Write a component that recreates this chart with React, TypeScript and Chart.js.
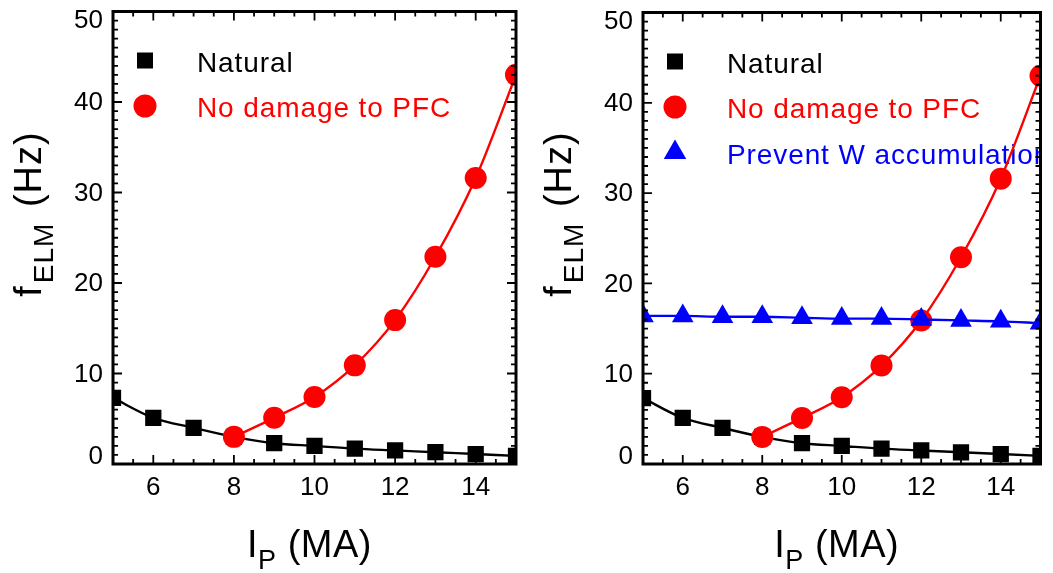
import React, { useEffect, useRef } from 'react';
import { Chart, registerables } from 'chart.js';

Chart.register(...registerables);

const FONT = '"Liberation Sans", Arial, Helvetica, sans-serif';

// ---- data ----
const currents = [5, 6, 7, 8, 9, 10, 11, 12, 13, 14, 15];
const naturalFreq = [7.3, 5.1, 4.0, 3.0, 2.3, 2.0, 1.7, 1.5, 1.3, 1.1, 0.9];
const noDamageCurrents = [8, 9, 10, 11, 12, 13, 14, 15];
const noDamageFreq = [3.0, 5.1, 7.4, 10.9, 15.9, 22.9, 31.6, 43.0];
const preventWFreq = [16.4, 16.4, 16.3, 16.3, 16.2, 16.1, 16.1, 16.0, 15.9, 15.8, 15.6];

const xTickValues = [6, 8, 10, 12, 14];
const yTickValues = [0, 10, 20, 30, 40, 50];
const xRange = [5, 15];
const yRange = [0, 50];

const legendNatural = 'Natural';
const legendNoDamage = 'No damage to PFC';
const legendPreventW = 'Prevent W accumulation';

type Series = {
  label: string;
  color: string;
  style: 'rect' | 'circle' | 'triangle';
  radius: number;
  xs: number[];
  ys: number[];
  order: number;
};

const naturalSeries: Series = { label: legendNatural, color: '#000000', style: 'rect', radius: 11.5, xs: currents, ys: naturalFreq, order: 3 };
const noDamageSeries: Series = { label: legendNoDamage, color: '#ff0000', style: 'circle', radius: 11, xs: noDamageCurrents, ys: noDamageFreq, order: 2 };
const preventWSeries: Series = { label: legendPreventW, color: '#0000ff', style: 'triangle', radius: 12.5, xs: currents, ys: preventWFreq, order: 1 };

function drawMarker(ctx: CanvasRenderingContext2D, style: string, x: number, y: number, color: string) {
  ctx.fillStyle = color;
  ctx.beginPath();
  if (style === 'rect') {
    ctx.rect(x - 8, y - 8, 16, 16);
  } else if (style === 'circle') {
    ctx.arc(x, y, 11.5, 0, Math.PI * 2);
  } else {
    const r = 13;
    ctx.moveTo(x, y - r);
    ctx.lineTo(x + r * Math.sin((2 * Math.PI) / 3), y - r * Math.cos((2 * Math.PI) / 3));
    ctx.lineTo(x + r * Math.sin((4 * Math.PI) / 3), y - r * Math.cos((4 * Math.PI) / 3));
    ctx.closePath();
  }
  ctx.fill();
}

const framePlugin = {
  id: 'frame',
  afterDatasetsDraw(chart: any) {
    const { ctx, chartArea, scales } = chart;
    const { left, right, top, bottom } = chartArea;
    const xs = scales.x;
    const ys = scales.y;
    ctx.save();
    ctx.strokeStyle = '#000';
    ctx.lineWidth = 1.8;
    ctx.beginPath();
    for (let v = xRange[0]; v <= xRange[1] + 1e-6; v += 0.5) {
      const px = xs.getPixelForValue(v);
      const len = xTickValues.includes(v) ? 9 : 5;
      ctx.moveTo(px, bottom);
      ctx.lineTo(px, bottom - len);
      ctx.moveTo(px, top);
      ctx.lineTo(px, top + len);
    }
    for (let v = yRange[0]; v <= yRange[1] + 1e-6; v += 1) {
      const py = ys.getPixelForValue(v);
      const len = yTickValues.includes(v) ? 9 : 5;
      ctx.moveTo(left, py);
      ctx.lineTo(left + len, py);
      ctx.moveTo(right, py);
      ctx.lineTo(right - len, py);
    }
    ctx.stroke();
    ctx.lineWidth = 3;
    ctx.strokeRect(left, top, right - left, bottom - top);

    // y tick labels (end labels nudged inside the frame, as in the reference)
    ctx.fillStyle = '#000';
    ctx.font = `26px ${FONT}`;
    ctx.textAlign = 'right';
    ctx.textBaseline = 'middle';
    ys.ticks.forEach((t: any) => {
      const py = ys.getPixelForValue(t.value);
      const yy = Math.min(Math.max(py, top + 8), bottom - 8);
      ctx.fillText(String(t.value), left - 10, yy + 1);
    });
    ctx.restore();
  },
};

const legendPlugin = {
  id: 'customLegend',
  beforeDatasetsDraw(chart: any) {
    const { ctx, chartArea } = chart;
    const entries: Series[] = chart.options.plugins.customLegend.entries;
    ctx.save();
    ctx.beginPath();
    ctx.rect(chartArea.left, chartArea.top, chartArea.right - chartArea.left - 1, chartArea.bottom - chartArea.top);
    ctx.clip();
    entries.forEach((s, i) => {
      const my = chartArea.top + 49 + i * 45.5;
      drawMarker(ctx, s.style, chartArea.left + 32, my, s.color);
      ctx.fillStyle = s.color;
      ctx.font = `28px ${FONT}`;
      (ctx as any).letterSpacing = '0.9px';
      ctx.textAlign = 'left';
      ctx.textBaseline = 'alphabetic';
      ctx.fillText(s.label, chartArea.left + 84, my + 11);
    });
    ctx.restore();
  },
};

type Part = { t: string; sub?: boolean; gap?: number };

function drawComposite(ctx: CanvasRenderingContext2D, parts: Part[], cx: number, baseline: number, mainSize: number, subSize: number) {
  const mainFont = `${mainSize}px ${FONT}`;
  const subFont = `${subSize}px ${FONT}`;
  let total = 0;
  const widths = parts.map((p) => {
    ctx.font = p.sub ? subFont : mainFont;
    const w = ctx.measureText(p.t).width + (p.gap || 0);
    total += w;
    return w;
  });
  let x = cx - total / 2;
  parts.forEach((p, i) => {
    ctx.font = p.sub ? subFont : mainFont;
    ctx.fillText(p.t, x + (p.gap || 0), p.sub ? baseline + 12 : baseline);
    x += widths[i];
  });
}

const titlePlugin = {
  id: 'axisTitles',
  afterDraw(chart: any) {
    const { ctx, chartArea } = chart;
    ctx.save();
    ctx.fillStyle = '#000';
    ctx.textAlign = 'left';
    ctx.textBaseline = 'alphabetic';
    (ctx as any).letterSpacing = '0.5px';
    const cx = (chartArea.left + chartArea.right) / 2 - 5;
    drawComposite(ctx, [{ t: 'I' }, { t: 'P', sub: true }, { t: ' (MA)' }], cx, 557, 38, 27);
    ctx.translate(chartArea.left - 72, 214);
    ctx.rotate(-Math.PI / 2);
    (ctx as any).letterSpacing = '1px';
    drawComposite(ctx, [{ t: 'f' }, { t: 'ELM', sub: true, gap: 2 }, { t: ' (Hz)', gap: 4 }], 0, 0, 38, 28);
    ctx.restore();
  },
};

function buildChart(canvas: HTMLCanvasElement, series: Series[], padRight: number) {
  return new Chart(canvas, {
    type: 'line',
    data: {
      datasets: series.map((s) => ({
        label: s.label,
        data: s.xs.map((x, i) => ({ x, y: s.ys[i] })),
        borderColor: s.color,
        backgroundColor: s.color,
        borderWidth: 2.4,
        pointStyle: s.style,
        pointRadius: s.radius,
        pointBackgroundColor: s.color,
        pointBorderWidth: 0,
        pointHoverRadius: s.radius,
        cubicInterpolationMode: 'monotone',
        fill: false,
        order: s.order,
        clip: 0,
      })) as any,
    },
    options: {
      animation: false,
      responsive: false,
      devicePixelRatio: 1,
      events: [],
      layout: { padding: { top: 11, right: padRight, left: 0, bottom: 0 } },
      plugins: {
        legend: { display: false },
        tooltip: { enabled: false },
        customLegend: { entries: series },
      } as any,
      scales: {
        x: {
          type: 'linear',
          min: xRange[0],
          max: xRange[1],
          afterBuildTicks: (scale: any) => {
            scale.ticks = xTickValues.map((v) => ({ value: v }));
          },
          afterFit: (scale: any) => {
            scale.height = 109;
            scale.paddingLeft = 0;
            scale.paddingRight = 0;
          },
          grid: { display: false, drawTicks: false },
          border: { display: false },
          ticks: { font: { family: FONT, size: 26 }, color: '#000', padding: 8, maxRotation: 0, autoSkip: false },
        },
        y: {
          type: 'linear',
          min: yRange[0],
          max: yRange[1],
          afterBuildTicks: (scale: any) => {
            scale.ticks = yTickValues.map((v) => ({ value: v }));
          },
          afterFit: (scale: any) => {
            scale.width = 113;
            scale.paddingTop = 0;
            scale.paddingBottom = 0;
          },
          grid: { display: false, drawTicks: false },
          border: { display: false },
          ticks: { display: false },
        },
      },
    } as any,
    plugins: [legendPlugin, framePlugin, titlePlugin],
  });
}

export default function App() {
  const leftRef = useRef<HTMLCanvasElement>(null);
  const rightRef = useRef<HTMLCanvasElement>(null);

  useEffect(() => {
    const c1 = buildChart(leftRef.current!, [naturalSeries, noDamageSeries], 14);
    const c2 = buildChart(rightRef.current!, [naturalSeries, noDamageSeries, preventWSeries], 8);
    return () => {
      c1.destroy();
      c2.destroy();
    };
  }, []);

  return (
    <div style={{ position: 'fixed', left: 0, top: 0, width: 1053, height: 573, background: '#fff' }}>
      <canvas ref={leftRef} width={530} height={573} style={{ position: 'absolute', left: 0, top: 0, width: 530, height: 573 }} />
      <canvas ref={rightRef} width={523} height={573} style={{ position: 'absolute', left: 530, top: 0, width: 523, height: 573 }} />
    </div>
  );
}
